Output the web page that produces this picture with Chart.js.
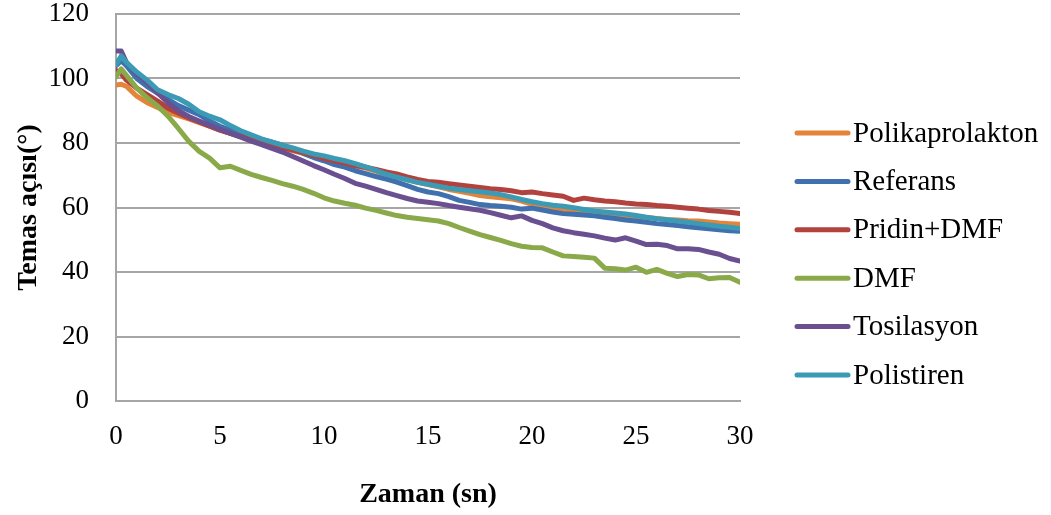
<!DOCTYPE html>
<html>
<head>
<meta charset="utf-8">
<script src="https://cdn.jsdelivr.net/npm/chart.js@4"></script>
<style>
  html, body { margin: 0; padding: 0; background: #ffffff; }
  #wrap { width: 1051px; height: 515px; position: relative; }
</style>
</head>
<body>
<div id="wrap"><canvas id="temasChart"></canvas></div>
<script>
// ======================================
// DATA
// ======================================

const seriesNames = ['Polikaprolakton', 'Referans', 'Pridin+DMF', 'DMF', 'Tosilasyon', 'Polistiren'];

const zaman = [0, 0.25, 0.5, 1, 1.5, 2, 2.5, 3, 3.5, 4, 4.5, 5, 5.5, 6, 6.5, 7, 7.5, 8, 8.5, 9, 9.5,
  10, 10.5, 11, 11.5, 12, 12.5, 13, 13.5, 14, 14.5, 15, 15.5, 16, 16.5, 17, 17.5, 18, 18.5, 19, 19.5,
  20, 20.5, 21, 21.5, 22, 22.5, 23, 23.5, 24, 24.5, 25, 25.5, 26, 26.5, 27, 27.5, 28, 28.5, 29, 29.5, 30];

const polikaprolakton = [98, 98.2, 97.6, 94.5, 92.5, 91, 89.5, 88.5, 87.5, 86.3, 85.2, 84, 83, 82, 81, 80, 79.2, 78.3, 77.6, 76.8, 76.1,
  75.4, 74.6, 73.8, 72.9, 72.2, 71.2, 70.3, 69.4, 68.6, 67.8, 67.1, 66.4, 65.6, 65, 64.4, 63.7, 63.3, 63, 62.7, 62,
  61, 60.2, 59.6, 59, 58.8, 58.6, 58.4, 58.1, 57.8, 57.5, 57.2, 56.9, 56.6, 56.3, 56.1, 55.9, 55.8, 55.5, 55.2, 55, 54.8];

const referans = [104, 105.5, 104, 100, 97.5, 95.5, 93.5, 91.6, 90.2, 88.8, 86.8, 85.2, 84, 82.8, 81.8, 81, 80.3, 79.3, 78.2, 76.8, 75.5,
  74.5, 73.3, 72.5, 71.4, 70.5, 69.6, 68.8, 67.9, 66.8, 65.6, 64.8, 64.3, 63.4, 62.2, 61.6, 60.9, 60.6, 60.4, 60.1, 59.5,
  59.8, 59.2, 58.6, 58.1, 57.9, 57.7, 57.4, 57, 56.6, 56.1, 55.8, 55.4, 55, 54.7, 54.4, 54, 53.7, 53.4, 53.1, 52.8, 52.6];

const pridinDmf = [102.5, 101.5, 99.5, 97, 95, 93, 90.8, 89.2, 87.8, 86.5, 85.2, 84, 83, 82, 81.2, 80.2, 79.3, 78.6, 77.8, 77, 76.2,
  75.2, 74.5, 73.8, 73, 72.5, 71.8, 71, 70.4, 69.5, 68.7, 68.1, 67.8, 67.4, 67, 66.6, 66.2, 65.8, 65.6, 65.2, 64.6,
  64.8, 64.3, 63.9, 63.5, 62.2, 62.9, 62.4, 62, 61.8, 61.4, 61.1, 60.9, 60.6, 60.4, 60.1, 59.8, 59.5, 59.1, 58.8, 58.5, 58.1];

const dmf = [100.5, 103, 101, 97, 94, 91.5, 88.3, 84.5, 80.5, 77.4, 75.3, 72.3, 72.8, 71.5, 70.3, 69.3, 68.4, 67.4, 66.6, 65.6, 64.4,
  63, 62, 61.3, 60.7, 59.8, 59.1, 58.3, 57.5, 57, 56.6, 56.2, 55.8, 55, 53.8, 52.7, 51.6, 50.7, 49.8, 48.8, 48,
  47.6, 47.5, 46.2, 45, 44.8, 44.6, 44.3, 41.2, 41, 40.6, 41.5, 39.9, 40.8, 39.6, 38.6, 39.2, 39.1, 37.9, 38.2, 38.3, 36.8];

const tosilasyon = [108.5, 108.5, 105, 101.5, 98.8, 95.5, 92.5, 90, 88.2, 86.8, 85.5, 84.2, 83, 81.8, 80.6, 79.5, 78.3, 77.2, 75.8, 74.4, 73,
  71.7, 70.3, 69, 67.5, 66.6, 65.6, 64.6, 63.7, 62.8, 62, 61.6, 61.2, 60.6, 60.1, 59.6, 59.1, 58.4, 57.6, 56.8, 57.4,
  56, 55, 53.7, 52.8, 52.2, 51.7, 51.2, 50.5, 49.9, 50.6, 49.6, 48.5, 48.6, 48.2, 47.2, 47.2, 47, 46.2, 45.5, 44.2, 43.4];

const polistiren = [104.3, 107, 105, 102, 99.5, 96.5, 95, 93.8, 92, 89.7, 88.3, 87.2, 85.4, 83.8, 82.5, 81.3, 80.3, 79.3, 78.5, 77.5, 76.6,
  76, 75.2, 74.5, 73.6, 72.6, 71.5, 70.3, 69.4, 68.6, 67.8, 67.2, 66.6, 66, 65.6, 65.2, 64.9, 64.5, 64, 63.3, 62.5,
  61.8, 61.2, 60.7, 60.4, 59.9, 59.4, 58.9, 58.6, 58.3, 58, 57.5, 57, 56.5, 56.2, 55.8, 55.4, 55, 54.6, 54.2, 53.9, 53.5];

const seriesValues = [polikaprolakton, referans, pridinDmf, dmf, tosilasyon, polistiren];

const yTicks = [0, 20, 40, 60, 80, 100, 120];
const xTicks = [0, 5, 10, 15, 20, 25, 30];

// ======================================
// STYLE
// ======================================
const SERIES_COLORS = ['#E3843A', '#4070AD', '#B2423E', '#8AAA4A', '#6A4F91', '#3B9AB4'];
const GRID_COLOR = '#A6A6A6';
const FONT_FAMILY = '"Liberation Serif", "Times New Roman", serif';

const datasets = seriesNames.map((name, i) => ({
  label: name,
  data: zaman.map((t, k) => ({ x: t, y: seriesValues[i][k] })),
  borderColor: SERIES_COLORS[i],
  backgroundColor: SERIES_COLORS[i],
  borderWidth: 5,
  pointRadius: 0,
  tension: 0,
  fill: false,
  borderJoinStyle: 'round',
  borderCapStyle: 'round',
  // Excel draws later series on top
  order: seriesNames.length - i
}));

// legend drawn on the right, in series order
const sideLegend = {
  id: 'sideLegend',
  afterDraw(chart) {
    const ctx = chart.ctx;
    ctx.save();
    ctx.font = '29px ' + FONT_FAMILY;
    ctx.textBaseline = 'middle';
    ctx.textAlign = 'left';
    seriesNames.forEach((name, i) => {
      const y = 133 + i * 48.4;
      ctx.strokeStyle = SERIES_COLORS[i];
      ctx.lineWidth = 5;
      ctx.lineCap = 'round';
      ctx.beginPath();
      ctx.moveTo(797, y);
      ctx.lineTo(848, y);
      ctx.stroke();
      ctx.fillStyle = '#000000';
      ctx.fillText(name, 853, y + 1);
    });
    ctx.restore();
  }
};

document.addEventListener('DOMContentLoaded', function () {
  const ctx = document.getElementById('temasChart').getContext('2d');
  new Chart(ctx, {
    type: 'line',
    data: { datasets },
    options: {
      responsive: true,
      maintainAspectRatio: false,
      animation: false,
      layout: { padding: { top: 14, right: 311, bottom: 0, left: 0 } },
      plugins: {
        legend: { display: false },
        tooltip: { enabled: false }
      },
      scales: {
        x: {
          type: 'linear',
          min: 0,
          max: 30,
          afterBuildTicks: scale => { scale.ticks = xTicks.map(v => ({ value: v })); },
          afterFit: scale => { scale.height = 114; },
          grid: { display: false, drawTicks: false },
          border: { display: true, color: GRID_COLOR, width: 2 },
          ticks: {
            color: '#000000',
            font: { family: FONT_FAMILY, size: 27 },
            padding: 20,
            maxRotation: 0
          },
          title: {
            display: true,
            text: 'Zaman (sn)',
            color: '#000000',
            font: { family: FONT_FAMILY, size: 28, weight: 'bold' },
            padding: { top: 0, bottom: 3 }
          }
        },
        y: {
          min: 0,
          max: 120,
          afterBuildTicks: scale => { scale.ticks = yTicks.map(v => ({ value: v })); },
          afterFit: scale => { scale.width = 116; },
          // invisible tick marks give the label gap without padding the top
          grid: { color: GRID_COLOR, lineWidth: 2, drawTicks: true, tickLength: 27, tickColor: 'rgba(0,0,0,0)' },
          border: { display: true, color: GRID_COLOR, width: 2 },
          ticks: {
            color: '#000000',
            font: { family: FONT_FAMILY, size: 27, lineHeight: 1 },
            padding: 0
          },
          title: {
            display: true,
            text: 'Temas açısı(°)',
            color: '#000000',
            font: { family: FONT_FAMILY, size: 28, weight: 'bold' },
            padding: { top: 12, bottom: 0 }
          }
        }
      }
    },
    plugins: [sideLegend]
  });
});
</script>
</body>
</html>
